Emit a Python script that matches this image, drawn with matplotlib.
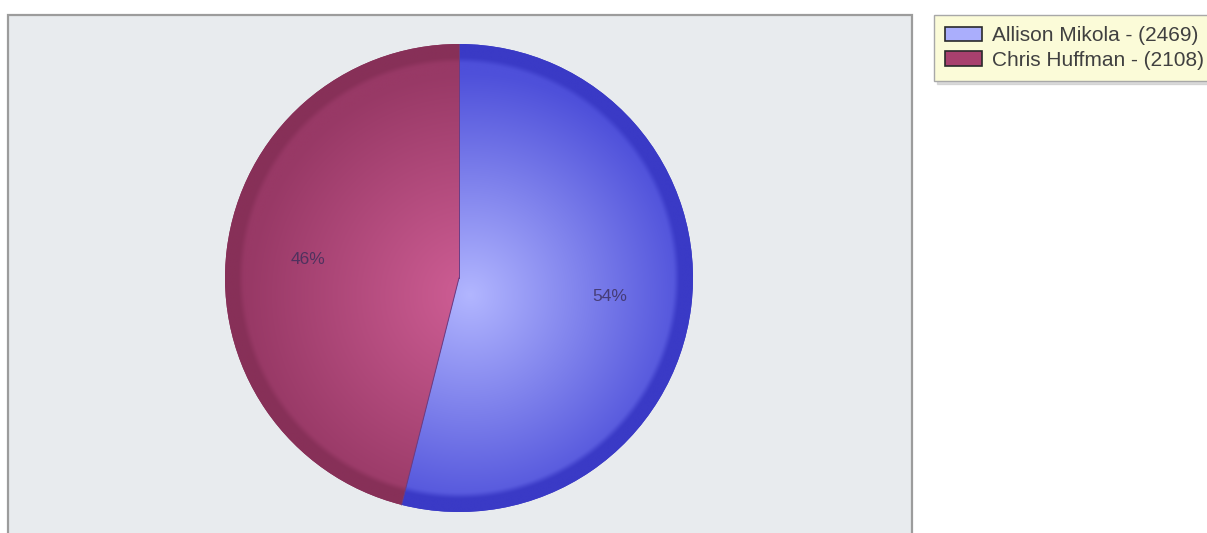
import matplotlib.pyplot as plt
import numpy as np

from matplotlib.colors import to_rgb
from matplotlib.patches import Rectangle, Patch, Wedge

# dati del grafico
nomi = ['Allison Mikola', 'Chris Huffman']
valori = [2469, 2108]

# colori: bordo esterno, parte esterna del gradiente, centro luminoso, legenda
colori_bordo = ['#3a3ac6', '#873058']
colori_esterni = ['#4e50da', '#983966']
colori_centro = ['#b2b6ff', '#cf5e95']
colori_legenda = ['#aaaefc', '#a8406e']


def main():
    fig = plt.figure(figsize=(12.07, 5.33), dpi=100)
    ax = fig.add_axes([0, 0, 1, 1])

    # pannello grigio del grafico
    ax.add_patch(Rectangle((8, -10), 904, 528, facecolor='#e8ebee',
                           edgecolor='#9c9c9c', linewidth=1.6, zorder=0))

    cx, cy, r = 459, 255, 234
    wedges, testi, autotesti = ax.pie(
        valori, startangle=90, counterclock=False, center=(cx, cy), radius=r,
        colors=colori_bordo, autopct='%1.0f%%', pctdistance=0.65,
        wedgeprops=dict(linewidth=0, edgecolor='none'),
        textprops=dict(color='#3a2e5a', alpha=0.8, fontsize=12.5,
                       family='Liberation Sans'))

    # gradiente radiale dentro ogni fetta, con bordo scuro sfumato
    hx, hy = 470, 238
    xs = np.linspace(cx - r, cx + r, 500)
    ys = np.linspace(cy - r, cy + r, 500)
    X, Y = np.meshgrid(xs, ys)
    t = np.clip(np.hypot(X - hx, Y - hy) / (r * 0.95), 0, 1)[..., None]
    rr = np.hypot(X - cx, Y - cy) / r
    s = np.clip((rr - 0.915) / 0.035, 0, 1)
    blend = (s * s * (3 - 2 * s))[..., None]
    for i, w in enumerate(wedges):
        c0 = np.array(to_rgb(colori_centro[i]))
        c1 = np.array(to_rgb(colori_esterni[i]))
        c2 = np.array(to_rgb(colori_bordo[i]))
        rgb = (c0 * (1 - t) + c1 * t) * (1 - blend) + c2 * blend
        clip = Wedge((cx, cy), r, w.theta1, w.theta2, facecolor='none',
                     edgecolor='none', zorder=2.4)
        ax.add_patch(clip)
        img = ax.imshow(rgb, extent=(cx - r, cx + r, cy - r, cy + r),
                        origin='lower', zorder=2.5, interpolation='bilinear')
        img.set_clip_path(clip)
        # linea di separazione tra le fette
        ang = np.deg2rad(w.theta1)
        ax.plot([cx, cx + r * np.cos(ang)], [cy, cy + r * np.sin(ang)],
                color='#6a3c84', linewidth=0.7, zorder=2.7)
    ax.set_xlim(0, 1207)
    ax.set_ylim(0, 533)
    ax.set_aspect('equal')
    ax.axis('off')
    for a in autotesti:
        a.set_zorder(5)

    # legenda
    handles = [Patch(facecolor=colori_legenda[i], edgecolor='#2a2a2a', linewidth=1.2,
                     label='%s - (%d)' % (nomi[i], valori[i])) for i in range(len(nomi))]
    leg = ax.legend(handles=handles, loc='upper left', bbox_to_anchor=(934, 518),
                    bbox_transform=ax.transData, frameon=True, fancybox=False,
                    shadow=dict(color='#c4c4c4', alpha=0.6),
                    prop=dict(family='Liberation Sans', size=15),
                    handlelength=1.75, handleheight=0.68, handletextpad=0.5,
                    labelspacing=0.25, borderpad=0.55, borderaxespad=0)
    leg.get_frame().set_facecolor('#fbfbd8')
    leg.get_frame().set_edgecolor('#a8a8a8')
    leg.get_frame().set_alpha(1)
    for tx in leg.get_texts():
        tx.set_color('#404040')

    fig.savefig('out.png', dpi=100)


if __name__ == "__main__":
    main()
